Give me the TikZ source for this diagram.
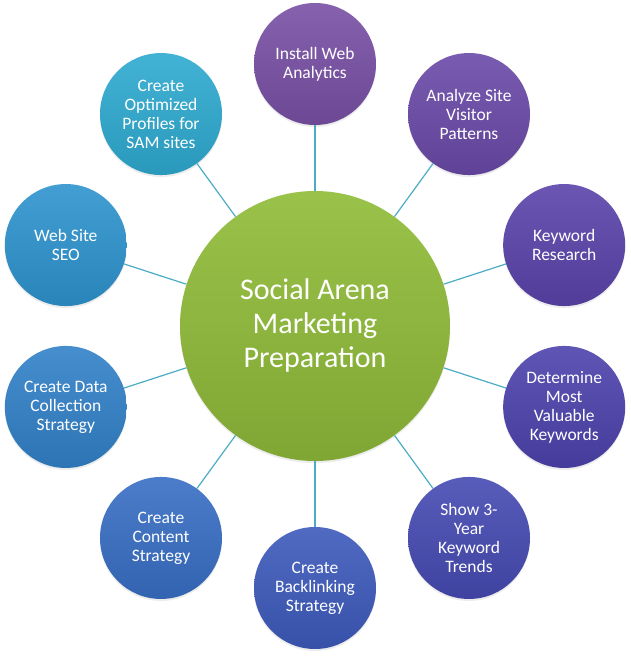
\documentclass[tikz,border=0pt]{standalone}
\usepackage{fontspec}
\setmainfont{Carlito}
\usepackage{xcolor}
\usepackage{tikz}
\usetikzlibrary{shadows}
\definecolor{hubgreen}{RGB}{145,189,58}
\definecolor{linkblue}{RGB}{75,172,198}
\definecolor{cInstall}{RGB}{120,80,165}
\definecolor{cAnalyze}{RGB}{106,74,168}
\definecolor{cKeyword}{RGB}{90,68,170}
\definecolor{cDetermine}{RGB}{76,66,172}
\definecolor{cTrends}{RGB}{70,74,178}
\definecolor{cBacklink}{RGB}{61,90,188}
\definecolor{cContent}{RGB}{56,110,196}
\definecolor{cData}{RGB}{50,129,201}
\definecolor{cSeo}{RGB}{46,148,206}
\definecolor{cProfiles}{RGB}{46,170,208}
\tikzset{hub/.style={circle,minimum size=270pt,inner sep=0pt,
        top color=hubgreen!92!white,bottom color=hubgreen!88!black,
        text=white,align=center,font=\fontsize{30}{34}\selectfont,
        drop shadow={opacity=0.15,shadow xshift=0pt,shadow yshift=-2pt}},
    leaf/.style={circle,minimum size=122pt,inner sep=0pt,
        top color=#1!90!white,bottom color=#1!90!black,
        text=white,align=center,font=\fontsize{17.5}{19}\selectfont,
        drop shadow={opacity=0.15,shadow xshift=0pt,shadow yshift=-2pt}},
    link/.style={draw=linkblue,line width=1.2pt}}

\begin{document}
\begin{tikzpicture}[x=1pt,y=1pt]
    \fill[white] (-315,-334) rectangle (315,326);
    \useasboundingbox (-315,-334) rectangle (315,326);
    \node[hub] (hub) at (0,0) {Social Arena\\Marketing\\Preparation};
    \node[leaf=cInstall] (install) at (90:262) {Install Web\\Analytics};
    \node[leaf=cAnalyze] (analyze) at (54:262) {Analyze Site\\Visitor\\Patterns};
    \node[leaf=cKeyword] (keyword) at (18:262) {Keyword\\Research};
    \node[leaf=cDetermine] (determine) at (-18:262) {Determine\\Most\\Valuable\\Keywords};
    \node[leaf=cTrends] (trends) at (-54:262) {Show 3-\\Year\\Keyword\\Trends};
    \node[leaf=cBacklink] (backlink) at (-90:262) {Create\\Backlinking\\Strategy};
    \node[leaf=cContent] (content) at (-126:262) {Create\\Content\\Strategy};
    \node[leaf=cData] (data) at (-162:262) {Create Data\\Collection\\Strategy};
    \node[leaf=cSeo] (seo) at (162:262) {Web Site\\SEO};
    \node[leaf=cProfiles] (profiles) at (126:262) {Create\\Optimized\\Profiles for\\SAM sites};
    % spokes
    \foreach \leafname in {install,analyze,keyword,determine,trends,backlink,content,data,seo,profiles}
        \draw[link] (hub) -- (\leafname);
\end{tikzpicture}
\end{document}
